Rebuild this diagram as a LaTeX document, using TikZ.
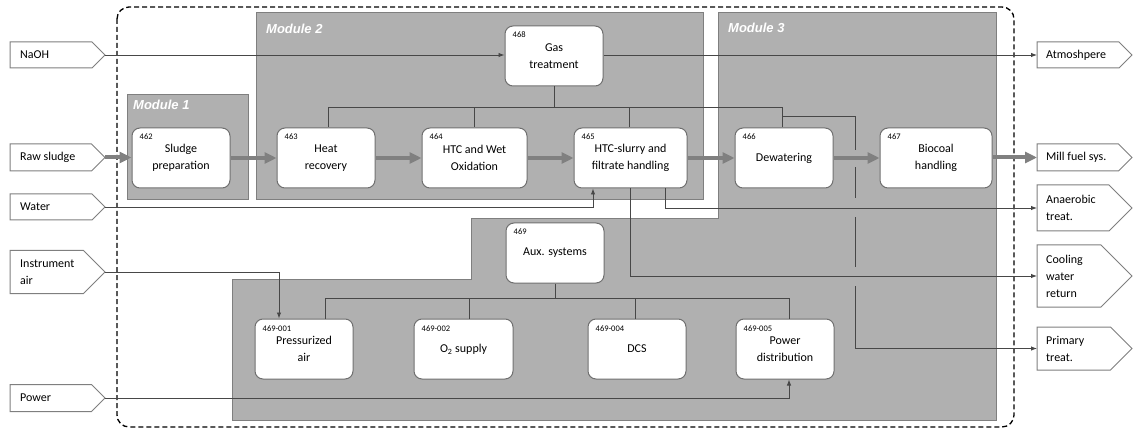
\documentclass[tikz,border=0pt]{standalone}
\usepackage{fontspec}
\setmainfont{Carlito}
\newfontfamily\modfont{Liberation Sans}
\usetikzlibrary{arrows.meta,calc}
\pgfdeclarelayer{bg}
\pgfsetlayers{bg,main}
\definecolor{regfill}{HTML}{B0B0B0}
\definecolor{regline}{HTML}{7F7F7F}
\definecolor{conncol}{HTML}{474747}
\definecolor{thickcol}{HTML}{808080}
\definecolor{boxline}{HTML}{6F6F6F}
\tikzset{
 region/.style={fill=regfill, draw=regline, line width=1pt},
 box/.style={draw=boxline, fill=white, line width=1pt, rounded corners=8pt, minimum height=60pt, align=center, font=\fontsize{12}{17}\selectfont, inner sep=0pt},
 numlbl/.style={font=\fontsize{8.5}{10}\selectfont, anchor=base west, inner sep=0pt},
 conn/.style={draw=conncol, line width=0.9pt},
 arr/.style={conn, -{Latex[length=6pt,width=4.5pt]}},
 flow/.style={draw=thickcol, line width=4pt, -{Triangle[length=12pt,width=11pt]}},
 portline/.style={draw=regline, line width=1pt, fill=white},
 porttxt/.style={inner sep=0pt, align=left, anchor=west, font=\fontsize{12}{17}\selectfont},
 modlbl/.style={text=white, font=\modfont\bfseries\itshape\fontsize{13}{15}\selectfont, anchor=west, inner sep=0pt},
 erase/.style={fill=regfill, draw=none},
 border/.style={draw=black, line width=1.3pt, dash pattern=on 5pt off 3pt, rounded corners=12pt},
}
\newcommand\inport[4]{%
  \draw[portline] (10,#2-#3) -- (105-#3,#2-#3) -- (105,#2) -- (105-#3,#2+#3) -- (10,#2+#3) -- cycle;
  \node[porttxt] (#1t) at (20,#2) {#4};
  \coordinate (#1) at (105,#2);
}
\newcommand\outport[4]{%
  \draw[portline] (1037,#2-#3) -- (1132-#3,#2-#3) -- (1132,#2) -- (1132-#3,#2+#3) -- (1037,#2+#3) -- cycle;
  \node[porttxt] (#1t) at (1046,#2) {#4};
  \coordinate (#1) at (1037,#2);
}
\begin{document}
\begin{tikzpicture}[x=1pt,y=-1pt]
\useasboundingbox (0,0) rectangle (1134,430);
\begin{pgfonlayer}{bg}
\draw[region] (127,95) rectangle (248,200);
\draw[region] (256,13) rectangle (703,200);
\draw[region] (718,13) -- (996,13) -- (996,420) -- (232,420) -- (232,279) -- (471,279) -- (471,219) -- (718,219) -- cycle;
\draw[border] (117,7) rectangle (1014,427);
\end{pgfonlayer}
% module labels
\node[modlbl] (m1) at (133,105) {Module 1};
\node[modlbl] (m2) at (266,29) {Module 2};
\node[modlbl] (m3) at (728,28) {Module 3};
% ports
\inport{naoh}{55}{13}{NaOH}
\inport{raw}{157.5}{13.5}{Raw sludge}
\inport{water}{207}{13}{Water}
\inport{iair}{272}{21.5}{Instrument\\air}
\inport{power}{398}{13.5}{Power}
\outport{atm}{55}{13}{Atmoshpere}
\outport{mill}{157.5}{13.5}{Mill fuel sys.}
\outport{anae}{208}{23}{Anaerobic\\treat.}
\outport{cool}{276}{31}{Cooling\\water\\return}
\outport{prim}{348.5}{21.5}{Primary\\treat.}
% boxes
\node[box, minimum width=98pt] (b462) at (181,158) {Sludge\\preparation};
\node[box, minimum width=98pt] (b463) at (326,158) {Heat\\recovery};
\node[box, minimum width=105pt] (b464) at (474.5,158) {HTC and Wet\\Oxidation};
\node[box, minimum width=113pt] (b465) at (630.5,158) {HTC-slurry and\\filtrate handling};
\node[box, minimum width=98pt] (b466) at (784,158) {Dewatering};
\node[box, minimum width=112pt] (b467) at (936,158) {Biocoal\\handling};
\node[box, minimum width=98pt] (b468) at (554,56) {Gas\\treatment};
\node[box, minimum width=98pt] (b469) at (555,253) {Aux. systems};
\node[box, minimum width=98pt] (b001) at (304,349) {Pressurized\\air};
\node[box, minimum width=99pt] (b002) at (463.5,349) {O\textsubscript{2} supply};
\node[box, minimum width=98pt] (b004) at (637,349) {DCS};
\node[box, minimum width=98pt] (b005) at (785,349) {Power\\distribution};
% number labels
\node[numlbl] (n462) at ($(b462.north west)+(8,12)$) {462};
\node[numlbl] (n463) at ($(b463.north west)+(8,12)$) {463};
\node[numlbl] (n464) at ($(b464.north west)+(8,12)$) {464};
\node[numlbl] (n465) at ($(b465.north west)+(8,12)$) {465};
\node[numlbl] (n466) at ($(b466.north west)+(8,12)$) {466};
\node[numlbl] (n467) at ($(b467.north west)+(8,12)$) {467};
\node[numlbl] (n468) at ($(b468.north west)+(8,12)$) {468};
\node[numlbl] (n469) at ($(b469.north west)+(8,12)$) {469};
\node[numlbl] (n001) at ($(b001.north west)+(8,12.5)$) {469-001};
\node[numlbl] (n002) at ($(b002.north west)+(8,12.5)$) {469-002};
\node[numlbl] (n004) at ($(b004.north west)+(8,12.5)$) {469-004};
\node[numlbl] (n005) at ($(b005.north west)+(8,12.5)$) {469-005};
% gas header
\coordinate (gh) at ($(b468.south)+(0,21)$);
\draw[conn] (b468.south) -- (gh);
\draw[conn] (gh) -| ($(b463.north)+(2,0)$);
\draw[conn] (gh) -| (b464.north);
\draw[conn] (gh) -| ($(b465.north)+(-1.5,0)$);
\draw[conn] (gh) -| ($(b466.north)+(-2,0)$);
% branch to primary treatment (with line jumps)
\coordinate (j1) at ($(b466.north)+(-2,-11)$);
\draw[arr] (j1) -- ++(73,0) |- (prim);
\fill[erase] (853,150) rectangle (857,167);
\fill[erase] (853,198) rectangle (857,217);
\fill[erase] (853,267) rectangle (857,286);
% other connectors
\draw[arr] (naoh) -- (naoh -| b468.west);
\draw[arr] (b468.east |- atm) -- (atm);
\draw[arr] (water) -| ($(b465.south)+(-37.5,0)$);
\draw[arr] (b465.south) |- (cool);
\draw[arr] ($(b465.south)+(34.5,0)$) |- (anae);
\draw[arr] (iair) -| ($(b001.north)+(-25,0)$);
\draw[arr] (power) -| ($(b005.south)+(4,0)$);
% aux header
\coordinate (ah) at ($(b469.south)+(0,15)$);
\draw[conn] (b469.south) -- (ah);
\draw[conn] (ah) -| ($(b001.north)+(21,0)$);
\draw[conn] (ah) -| ($(b002.north)+(5.5,0)$);
\draw[conn] (ah) -| ($(b004.north)+(-2,0)$);
\draw[conn] (ah) -| ($(b005.north)+(4,0)$);
% main flow
\draw[flow] (raw) -- (raw -| b462.west);
\draw[flow] (b462) -- (b463);
\draw[flow] (b463) -- (b464);
\draw[flow] (b464) -- (b465);
\draw[flow] (b465) -- (b466);
\draw[flow] (b466) -- (b467);
\draw[flow] (b467.east |- mill) -- (mill);
\end{tikzpicture}
\end{document}
